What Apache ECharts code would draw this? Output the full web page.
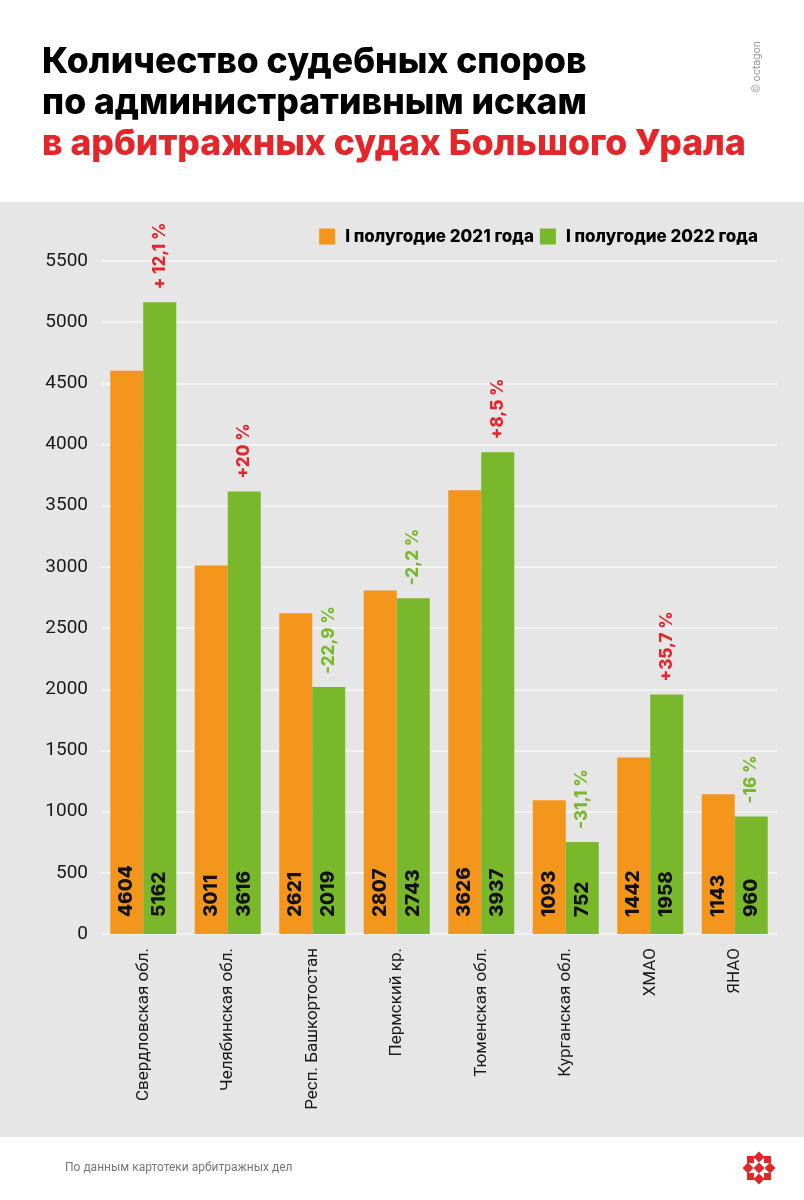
<!DOCTYPE html>
<html><head><meta charset="utf-8">
<script src="https://cdn.jsdelivr.net/npm/echarts@6/dist/echarts.min.js"></script>
<style>html,body{margin:0;padding:0;background:#fff}#c{width:804px;height:1200px}</style>
</head><body><div id="c"></div>
<script>
const categories = ['Свердловская обл.', 'Челябинская обл.', 'Респ. Башкортостан', 'Пермский кр.', 'Тюменская обл.', 'Курганская обл.', 'ХМАО', 'ЯНАО'];
const values2021 = [4604, 3011, 2621, 2807, 3626, 1093, 1442, 1143];
const values2022 = [5162, 3616, 2019, 2743, 3937, 752, 1958, 960];
const changeLabels = ['+ 12,1 %', '+20 %', '-22,9 %', '-2,2 %', '+8,5 %', '-31,1 %', '+35,7 %', '-16 %'];
const seriesNames = ['I полугодие 2021 года', 'I полугодие 2022 года'];
const yTicks = [0, 500, 1000, 1500, 2000, 2500, 3000, 3500, 4000, 4500, 5000, 5500];

const ORANGE = '#f4961c', GREEN = '#78b82a', RED = '#e4262b', TXT = '#1a1a1a';
const FONT = 'Inter, Roboto, sans-serif';

const chart = echarts.init(document.getElementById('c'), null, {renderer: 'canvas'});

const barLabel = {
  show: true, position: 'insideBottom', rotate: 90, align: 'left', verticalAlign: 'middle',
  distance: 17, color: '#111', fontWeight: 800, fontSize: 19, fontFamily: FONT
};

const pctData = values2022.map((v, i) => ({
  value: v,
  label: { color: changeLabels[i].trim().startsWith('-') ? GREEN : RED }
}));

function logo(cx, cy) {
  const els = [];
  const d = 5.5;
  [[0,0],[0,-11],[0,11],[-11,0],[11,0]].forEach(p => {
    els.push({ type: 'polygon', shape: { points: [[cx+p[0], cy+p[1]-d],[cx+p[0]+d, cy+p[1]],[cx+p[0], cy+p[1]+d],[cx+p[0]-d, cy+p[1]]] }, style: { fill: RED } });
  });
  [[-1,-1],[1,-1],[-1,1],[1,1]].forEach(p => {
    els.push({ type: 'rect', shape: { x: cx + p[0]*8.5 - 3.5, y: cy + p[1]*8.5 - 3.5, width: 7, height: 7 }, style: { fill: RED } });
  });
  return els;
}

const TITLE_FONT = '800 35.5px Inter, Roboto, sans-serif';

const option = {
  animation: false,
  backgroundColor: '#ffffff',
  graphic: [
    { type: 'rect', z: -10, shape: { x: 0, y: 202, width: 804, height: 935 }, style: { fill: '#e6e6e6' } },
    { type: 'text', x: 42, y: 62, style: { text: 'Количество судебных споров', font: TITLE_FONT, fill: '#000', verticalAlign: 'middle' } },
    { type: 'text', x: 42, y: 103, style: { text: 'по административным искам', font: TITLE_FONT, fill: '#000', verticalAlign: 'middle' } },
    { type: 'text', x: 42, y: 144, style: { text: 'в арбитражных судах Большого Урала', font: TITLE_FONT, fill: RED, verticalAlign: 'middle' } },
    { type: 'text', x: 757, y: 67, rotation: Math.PI / 2, style: { text: '© octagon', font: '11px Roboto, sans-serif', fill: '#9a9a9a', align: 'center', verticalAlign: 'middle' } },
    { type: 'text', x: 65, y: 1168, style: { text: 'По данным картотеки арбитражных дел', font: '12px Roboto, sans-serif', fill: '#777', verticalAlign: 'middle' } },
    ...logo(759, 1168)
  ],
  legend: {
    data: seriesNames, right: 41, top: 223, icon: 'rect', itemWidth: 16, itemHeight: 16, itemGap: 6,
    textStyle: { fontFamily: FONT, fontWeight: 800, fontSize: 17, color: '#000', padding: [0, 0, 0, 5] }
  },
  grid: { left: 101, top: 261, width: 676, height: 673, containLabel: false },
  xAxis: [
    { type: 'category', data: categories, axisLine: { show: false }, axisTick: { show: false },
      axisLabel: { rotate: 90, fontSize: 17, color: TXT, fontFamily: 'Roboto, sans-serif', margin: 14 } },
    { type: 'category', data: categories, show: false }
  ],
  yAxis: {
    type: 'value', min: 0, max: 5500, interval: 500,
    axisLine: { show: false }, axisTick: { show: false },
    axisLabel: { fontSize: 19, color: TXT, fontFamily: 'Roboto, sans-serif', margin: 13,
      formatter: v => yTicks.includes(v) ? String(v) : '' },
    splitLine: { lineStyle: { color: '#f3f3f3', width: 2 } }
  },
  series: [
    { name: seriesNames[0], type: 'bar', data: values2021, barWidth: 33, barGap: '0%', itemStyle: { color: ORANGE }, label: barLabel },
    { name: seriesNames[1], type: 'bar', data: values2022, barWidth: 33, barGap: '0%', itemStyle: { color: GREEN }, label: barLabel },
    { type: 'bar', xAxisIndex: 1, data: values2021, barWidth: 33, barGap: '0%', itemStyle: { color: 'rgba(0,0,0,0)' }, silent: true, legendHoverLink: false },
    { type: 'bar', xAxisIndex: 1, data: pctData, barWidth: 33, barGap: '0%', itemStyle: { color: 'rgba(0,0,0,0)' }, silent: true,
      label: { show: true, position: 'top', rotate: 90, align: 'left', verticalAlign: 'middle', distance: 13,
        fontWeight: 800, fontSize: 17, fontFamily: FONT, formatter: p => changeLabels[p.dataIndex] } }
  ]
};
chart.setOption(option);
</script></body></html>
